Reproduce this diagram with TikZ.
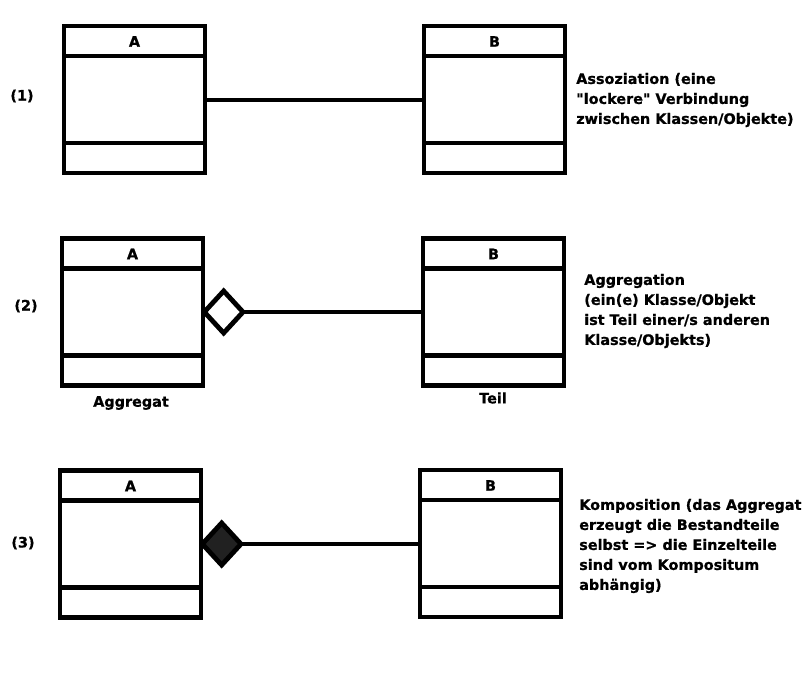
\documentclass[tikz,border=0pt]{standalone}
\usepackage{fontspec}
\setmainfont{DejaVu Sans}[Ligatures=TeXOff, BoldFeatures={FakeBold=0.8}]
\usetikzlibrary{shapes.geometric,calc}
\tikzset{
  x=0.75pt, y=-0.75pt,
  every node/.style={font=\bfseries\fontsize{10.8pt}{15pt}\selectfont},
  cls/.style={draw, line width=3.6pt, rectangle, outer sep=0pt, inner sep=0pt,
    minimum width=105.75pt, minimum height=110.25pt},
  divider/.style={line width=3.6pt},
  conn/.style={line width=3.6pt},
  agg/.style={draw, line width=3.6pt, diamond, inner sep=0pt, outer sep=0pt,
    minimum width=29pt, minimum height=31.5pt, fill=white},
  comp/.style={agg, fill=black!87},
  desc/.style={anchor=west, align=left, inner sep=0pt},
  numlbl/.style={inner sep=0pt},
}
\newcommand\UMLbox[4]{%
  \node[cls] (#1) at (#2,#3) {};
  \draw[divider] ([yshift=-22.5pt]#1.north west) -- ([yshift=-22.5pt]#1.north east);
  \draw[divider] ([yshift=22.5pt]#1.south west) -- ([yshift=22.5pt]#1.south east);
  \node[inner sep=0pt] (#1t) at ([yshift=-11.6pt]#1.north) {#4};
}
\begin{document}
\begin{tikzpicture}
\useasboundingbox[fill=white] (0,0) rectangle (810,672);
% row 1
\UMLbox{A1}{134.5}{99.5}{A}
\UMLbox{B1}{494.5}{99.5}{B}
\draw[conn] (A1.east |- 0,100) coordinate (a1) -- (a1 -| B1.west);
\node[numlbl] (n1) at (22,96) {(1)};
\node[desc] (d1) at (576,100) {Assoziation (eine\\"lockere" Verbindung\\zwischen Klassen/Objekte)};
% row 2
\UMLbox{A2}{132.5}{312}{A}
\UMLbox{B2}{493.5}{312}{B}
\node[agg, anchor=west] (g2) at ([xshift=1pt]A2.east) {};
\draw[conn] (g2.east) -- (g2.east -| B2.west);
\node[numlbl] (n2) at (26,306) {(2)};
\node[inner sep=0pt] (ag) at (131,403) {Aggregat};
\node[inner sep=0pt] (te) at (493,398) {Teil};
\node[desc] (d2) at (584,311) {Aggregation\\(ein(e) Klasse/Objekt\\ist Teil einer/s anderen\\Klasse/Objekts)};
% row 3
\UMLbox{A3}{130.5}{544}{A}
\UMLbox{B3}{490.5}{543.5}{B}
\node[comp, anchor=west] (g3) at ([xshift=1pt]A3.east) {};
\draw[conn] (g3.east) -- (g3.east -| B3.west);
\node[numlbl] (n3) at (23,543) {(3)};
\node[desc] (d3) at (579,546) {Komposition (das Aggregat\\erzeugt die Bestandteile\\selbst => die Einzelteile\\sind vom Kompositum\\abhängig)};
\end{tikzpicture}
\end{document}
